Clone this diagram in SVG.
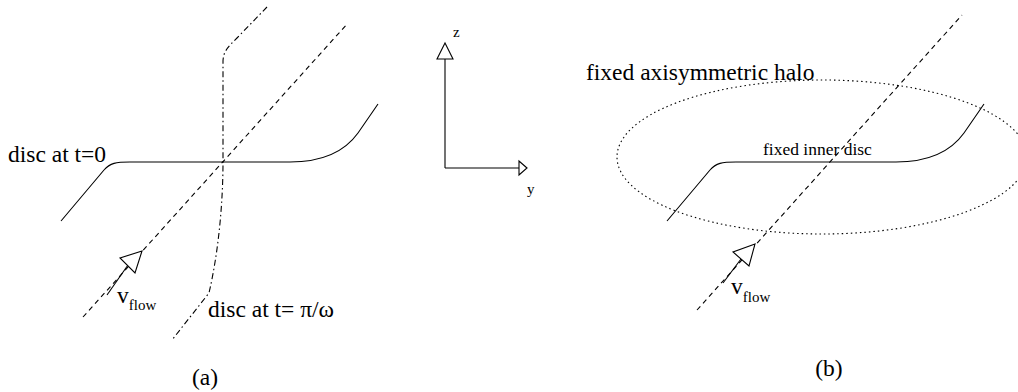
<svg xmlns="http://www.w3.org/2000/svg" width="1018" height="392" viewBox="0 0 1018 392">
<style>
  .ln{fill:none;stroke:#000;stroke-width:1.1}
  .dash{stroke-dasharray:5,4}
  .dashdot{stroke-dasharray:6,3,1.5,3}
  .dot{stroke-dasharray:1.5,3}
  .head{fill:#fff;stroke:#000;stroke-width:1.1}
  .t{font-family:"Liberation Serif","Times New Roman",serif;fill:#000}
  .big{font-size:23.5px}
  .sub{font-size:15px}
  .mid{font-size:17.5px}
  .ax{font-size:15px}
</style>
<rect width="1018" height="392" fill="#fff"/>
<g id="connectors">
  <!-- panel (a) -->
  <path class="ln dash" d="M83,317 L348,23"/>
  <path class="ln dashdot" d="M267,7 L237,38 C227,48 223,52 223,62 L223,162 C223,200 219,250 209,293 L172,340"/>
  <path class="ln" d="M107,295 L128,265"/>
  <polygon class="head" points="142,251 120,258 135,273"/>
  <!-- axes -->
  <path class="ln" d="M445,168 L445,59 M445,168 L519,168"/>
  <polygon class="head" points="445,43 437,59 453,59"/>
  <polygon class="head" points="527,168 519,161 519,175"/>
  <!-- panel (b) -->
  <path class="ln dash" d="M697,310 L962,15"/>
  <path class="ln" d="M723,283 L741,259"/>
  <polygon class="head" points="755,244 733,252 749,266"/>
</g>
<g id="disc-t0">
  <path class="ln" d="M61,221 L104,170 C110,163 116,162 130,162 L290,162 C330,162 348,147 358,133 L378,104"/>
  <text class="t big" x="8" y="162">disc at t=0</text>
</g>
<g id="disc-tpi">
  <text class="t big" x="208" y="317">disc at t= π/ω</text>
</g>
<g id="vflow-a">
  <text class="t big" x="117" y="303">v<tspan class="sub" dy="7">flow</tspan></text>
</g>
<g id="label-a">
  <text class="t big" x="205" y="385" text-anchor="middle">(a)</text>
</g>
<g id="axis-z">
  <text class="t ax" x="453" y="37">z</text>
</g>
<g id="axis-y">
  <text class="t ax" x="527" y="194">y</text>
</g>
<g id="halo">
  <ellipse class="ln dot" cx="822" cy="157" rx="205" ry="77"/>
  <text class="t big" x="586" y="80">fixed axisymmetric halo</text>
</g>
<g id="inner-disc">
  <path class="ln" d="M667,221 L710,170 C716,163 722,162 736,162 L896,162 C936,162 954,147 964,133 L984,104"/>
  <text class="t mid" x="763" y="155">fixed inner disc</text>
</g>
<g id="vflow-b">
  <text class="t big" x="731" y="294">v<tspan class="sub" dy="8">flow</tspan></text>
</g>
<g id="label-b">
  <text class="t big" x="829" y="376" text-anchor="middle">(b)</text>
</g>
</svg>
